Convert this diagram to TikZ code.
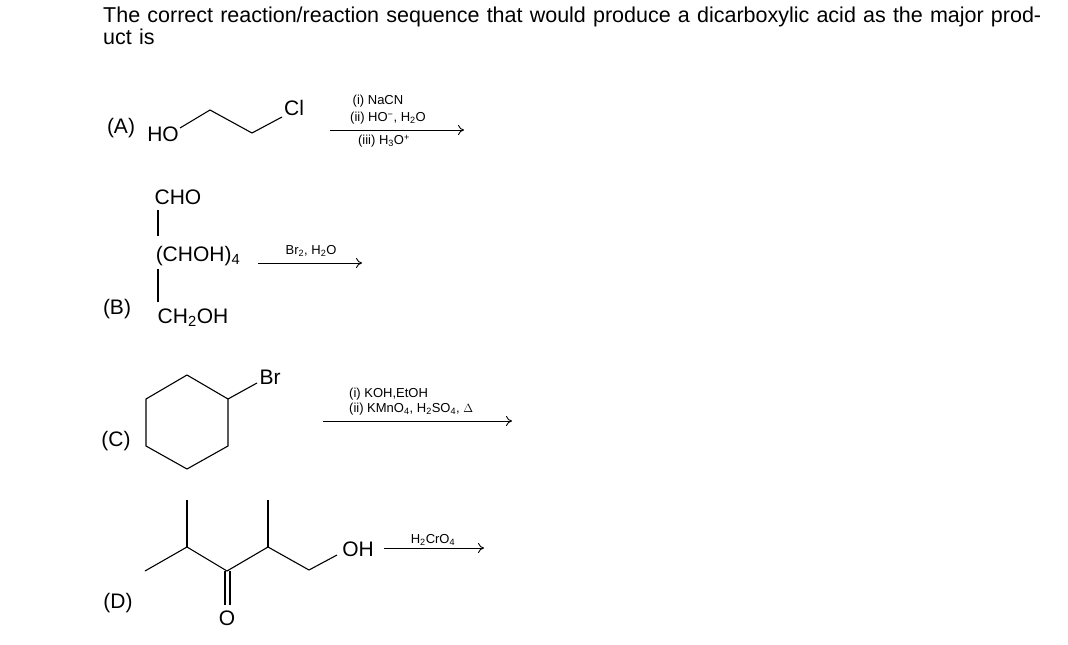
\documentclass[tikz,border=0pt]{standalone}
\usepackage{fontspec}
\setmainfont{Liberation Sans}
\usetikzlibrary{arrows.meta,positioning}
\newcommand{\sub}[1]{\textsubscript{#1}}
\newcommand{\supr}[1]{\textsuperscript{#1}}
\tikzset{
  bond/.style={line width=1.1pt},
  rxn/.style={line width=0.9pt,-{To[length=6pt,width=10pt]}},
  atom/.style={inner sep=0pt,font=\fontsize{21}{21}\selectfont},
  reag/.style={inner sep=1pt,font=\fontsize{13}{14}\selectfont,align=left},
}
\begin{document}
\begin{tikzpicture}[x=1pt,y=-1pt]
\useasboundingbox (0,0) rectangle (1068,645);
% question
\node[anchor=north west,inner sep=0pt,align=left,text width=955pt,font=\fontsize{21.5}{22}\selectfont] (q) at (103,7)
  {The correct reaction/reaction sequence that would produce a dicarboxylic acid as the major product is};

% (A)
\node[atom] (la) at (121,128) {(A)};
\node[atom] (ho) at (163,134) {HO};
\coordinate (a1) at (180,128);
\coordinate (a2) at (210,110);
\coordinate (a3) at (252,133);
\coordinate (a4) at (282,117);
\node[atom] (cl) at (294,108) {Cl};
\draw[bond] (a1) -- (a2) -- (a3) -- (a4);
\coordinate (ra1) at (330,130);
\coordinate (ra2) at (464,130);
\draw[rxn] (ra1) -- (ra2);
\node[reag] (ra3) at (378,101) {(i) NaCN};
\node[reag] (ra4) at (388,118) {(ii) HO\supr{−}, H\sub{2}O};
\node[reag] (ra5) at (384,141) {(iii) H\sub{3}O\supr{+}};

% (B)
\node[atom] (cho) at (178,197) {CHO};
\node[atom] (chohn) at (198,256) {(CHOH)\sub{4}};
\node[atom] (ch2oh) at (193,318) {CH\sub{2}OH};
\node[atom] (lb) at (117,309) {(B)};
\draw[bond] (158,210) -- (158,236);
\draw[bond] (158,269) -- (158,302);
\coordinate (rb1) at (258,263);
\coordinate (rb2) at (362,263);
\draw[rxn] (rb1) -- (rb2);
\node[reag] (rb3) at (311,251) {Br\sub{2}, H\sub{2}O};

% (C)
\node[atom] (lc) at (116,441) {(C)};
\draw[bond] (187,375) -- (228,399) -- (228,446) -- (187,469) -- (146,446) -- (146,399) -- cycle;
\node[atom] (br) at (270,377) {Br};
\draw[bond] (228,399) -- (257,383);
\coordinate (rc1) at (323,421);
\coordinate (rc2) at (512,421);
\draw[rxn] (rc1) -- (rc2);
\node[reag,anchor=west] (rc3) at (348,394) {(i) KOH,EtOH};
\node[reag,anchor=west] (rc4) at (348,409) {(ii) KMnO\sub{4}, H\sub{2}SO\sub{4}, $\Delta$};

% (D)
\node[atom] (ld) at (118,603) {(D)};
\draw[bond] (145,571) -- (187,547) -- (227,571) -- (268,547) -- (309,570) -- (337,555);
\draw[bond] (187,547) -- (187,500);
\draw[bond] (268,547) -- (268,500);
\draw[bond] (225,571) -- (225,605);
\draw[bond] (230,571) -- (230,605);
\node[atom] (dox) at (227,618) {O};
\node[atom] (doh) at (358,549) {OH};
\coordinate (rd1) at (384,548);
\coordinate (rd2) at (484,548);
\draw[rxn] (rd1) -- (rd2);
\node[reag] (rd3) at (433,540) {H\sub{2}CrO\sub{4}};
\end{tikzpicture}
\end{document}
